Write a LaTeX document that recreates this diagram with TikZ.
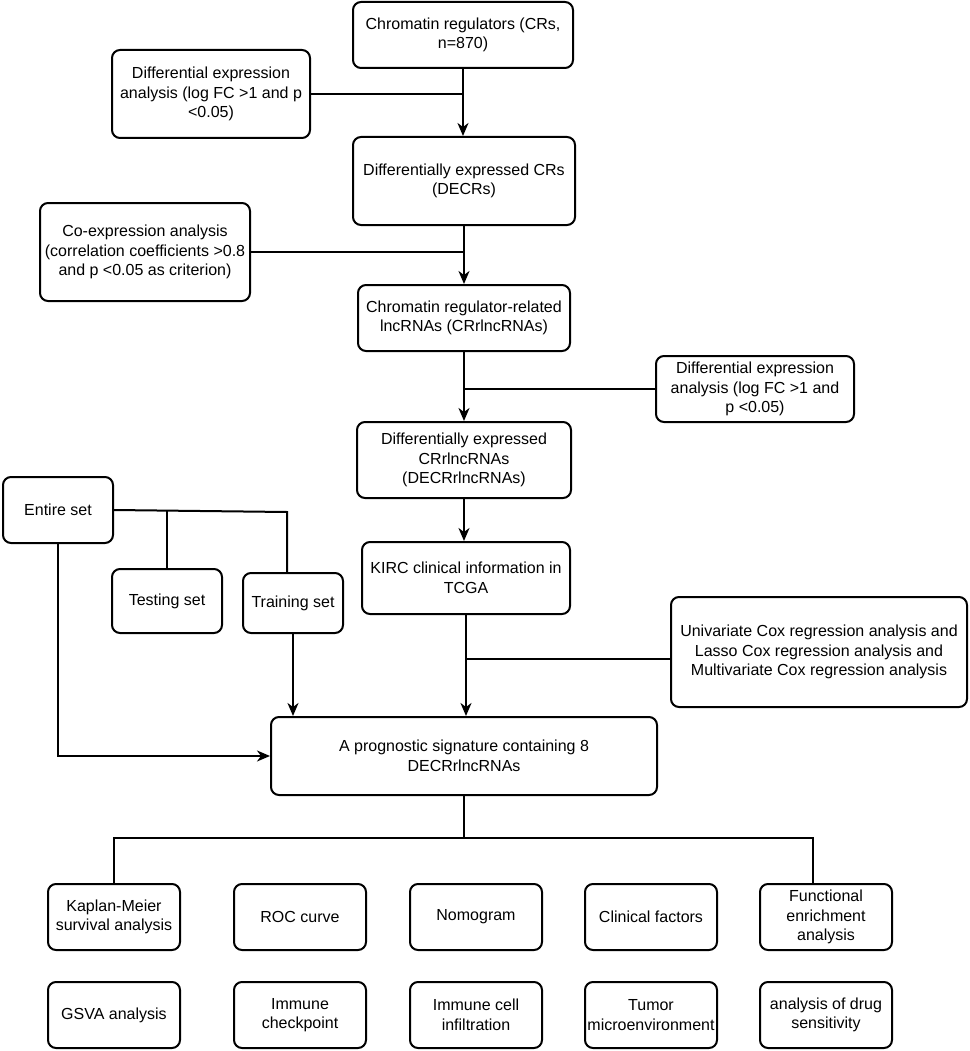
\documentclass[tikz,border=0pt]{standalone}
\usepackage{fontspec}
\setmainfont{Liberation Sans}
\usetikzlibrary{arrows.meta}
\begin{document}
\begin{tikzpicture}[x=1pt,y=1pt,
  box/.style={draw, line width=2pt, rounded corners=8pt, align=center, inner sep=0pt,
    font=\fontsize{16}{19.5}\selectfont},
  ln/.style={line width=2pt},
  arr/.style={ln, -{Stealth[length=13pt,width=11pt,inset=4pt]}}]
\useasboundingbox (0,0) rectangle (969,-1051);
% top chain
\node[box, minimum width=220pt, minimum height=66pt] (cr) at (463,-35) {Chromatin regulators (CRs,\\n=870)};
\node[box, minimum width=198pt, minimum height=88pt] (de1) at (211,-94) {Differential expression\\analysis (log FC >1 and p\\<0.05)};
\node[box, minimum width=222pt, minimum height=88pt] (decr) at (464,-181) {Differentially expressed CRs\\(DECRs)};
\node[box, minimum width=210pt, minimum height=98pt] (coexp) at (145,-252) {Co-expression analysis\\(correlation coefficients >0.8\\and p <0.05 as criterion)};
\node[box, minimum width=212pt, minimum height=66pt] (crl) at (464,-318) {Chromatin regulator-related\\lncRNAs (CRrlncRNAs)};
\node[box, minimum width=198pt, minimum height=66pt] (de2) at (755,-389) {Differential expression\\analysis (log FC >1 and\\p <0.05)};
\node[box, minimum width=214pt, minimum height=76pt] (decrl) at (464,-460) {Differentially expressed\\CRrlncRNAs\\(DECRrlncRNAs)};
\node[box, minimum width=208pt, minimum height=72pt] (kirc) at (466,-578) {KIRC clinical information in\\TCGA};
\node[box, minimum width=110pt, minimum height=66pt] (entire) at (58,-510) {Entire set};
\node[box, minimum width=110pt, minimum height=64pt] (testing) at (167,-601) {Testing set};
\node[box, minimum width=100pt, minimum height=60pt] (training) at (293,-603) {Training set};
\node[box, minimum width=296pt, minimum height=110pt] (uni) at (819,-652) {Univariate Cox regression analysis and\\Lasso Cox regression analysis and\\Multivariate Cox regression analysis};
\node[box, minimum width=386pt, minimum height=78pt] (sig) at (464,-756) {A prognostic signature containing 8\\DECRrlncRNAs};
% bottom rows
\node[box, minimum width=132pt, minimum height=66pt] (km) at (114,-917) {Kaplan-Meier\\survival analysis};
\node[box, minimum width=132pt, minimum height=66pt] (roc) at (300,-917) {ROC curve};
\node[box, minimum width=132pt, minimum height=66pt] (nomo) at (476,-917) {Nomogram};
\node[box, minimum width=132pt, minimum height=66pt] (clin) at (651,-917) {Clinical factors};
\node[box, minimum width=132pt, minimum height=66pt] (fe) at (826,-917) {Functional\\enrichment\\analysis};
\node[box, minimum width=132pt, minimum height=66pt] (gsva) at (114,-1015) {GSVA analysis};
\node[box, minimum width=132pt, minimum height=66pt] (ic) at (300,-1015) {Immune\\checkpoint};
\node[box, minimum width=132pt, minimum height=66pt] (ici) at (476,-1015) {Immune cell\\infiltration};
\node[box, minimum width=132pt, minimum height=66pt] (tme) at (651,-1015) {Tumor\\microenvironment};
\node[box, minimum width=132pt, minimum height=66pt] (drug) at (826,-1015) {analysis of drug\\sensitivity};
% connectors
\draw[arr] (cr.south) -- (cr.south |- decr.north);
\draw[ln] (de1.east) -- (de1.east -| cr.south);
\draw[arr] (decr.south) -- (decr.south |- crl.north);
\draw[ln] (coexp.east) -- (coexp.east -| decr.south);
\draw[arr] (crl.south) -- (crl.south |- decrl.north);
\draw[ln] (de2.west) -- (de2.west -| crl.south);
\draw[arr] (decrl.south) -- (decrl.south |- kirc.north);
\draw[arr] (kirc.south) -- (kirc.south |- sig.north);
\path ([yshift=-7pt]uni.west) coordinate (uw);
\draw[ln] (uw) -- (uw -| kirc.south);
\draw[arr] (training.south) -- (training.south |- sig.north);
\draw[arr] (entire.south) |- (sig.west);
\coordinate (tr) at (287,-512);
\coordinate (tb) at (167,-511);
\draw[ln] (entire.east) -- (tr) -- (tr |- training.north);
\draw[ln] (tb) -- (testing.north);
\coordinate (bj) at (464,-838);
\coordinate (fj) at (813,-838);
\draw[ln] (sig.south) -- (bj);
\draw[ln] (km.north) -- (km.north |- bj) -- (fj) -- (fj |- fe.north);
\end{tikzpicture}
\end{document}
